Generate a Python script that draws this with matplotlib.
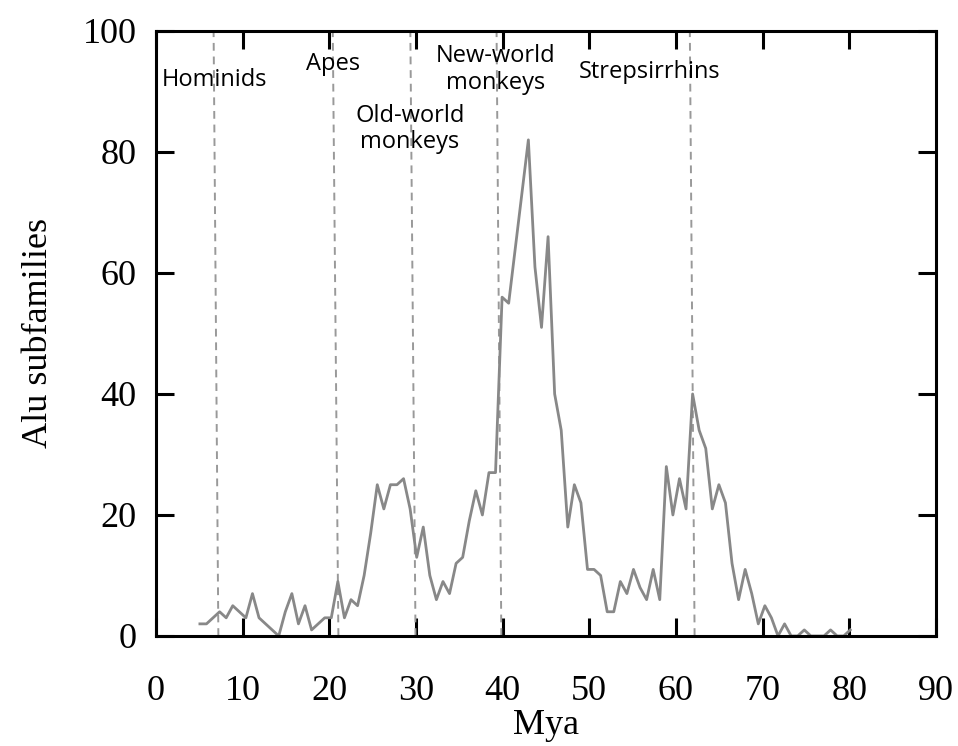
import matplotlib.pyplot as plt
import numpy as np

# Alu subfamily counts, sampled every ~0.76 Mya from ~5 Mya
start_mya = 5.07
step_mya = 0.758
counts = [2, 2, 3, 4, 3, 5, 4, 3, 7, 3,
          2, 1, 0, 4, 7, 2, 5, 1, 2, 3,
          3, 9, 3, 6, 5, 10, 17, 25, 21, 25,
          25, 26, 21, 13, 18, 10, 6, 9, 7, 12,
          13, 19, 24, 20, 27, 27, 56, 55, 64, 73,
          82, 61, 51, 66, 40, 34, 18, 25, 22, 11,
          11, 10, 4, 4, 9, 7, 11, 8, 6, 11,
          6, 28, 20, 26, 21, 40, 34, 31, 21, 25,
          22, 12, 6, 11, 7, 2, 5, 3, 0, 2,
          0, 0, 1, 0, 0, 0, 1, 0, 0, 1]
mya = start_mya + step_mya * np.arange(len(counts))

# divergence markers (slightly slanted in the original: bottom -> top)
div_bottom = [7.2, 21.05, 29.95, 39.85, 62.15]
div_top = [6.65, 20.4, 29.35, 39.3, 61.6]

labels = ["Hominids", "Apes", "Old-world\nmonkeys", "New-world\nmonkeys", "Strepsirrhins"]
label_x = [6.8, 20.4, 29.3, 39.2, 57.0]
label_y = [91.9, 94.5, 83.8, 93.6, 93.2]

fig = plt.figure(figsize=(9.58, 7.46), dpi=100)
ax = fig.add_axes([0.1628, 0.1475, 0.8142, 0.811])

for xb, xt in zip(div_bottom, div_top):
    ax.plot([xb, xt], [0, 100], color='#999999', lw=1.4, ls=(0, (4, 3)))

ax.plot(mya, counts, color='#888888', lw=2.0)

for txt, tx, ty in zip(labels, label_x, label_y):
    ax.text(tx, ty, txt, ha='center', va='center', fontsize=17,
            family='Open Sans', linespacing=1.15)

ax.set_xlim(0, 90)
ax.set_ylim(0, 100)
ax.set_xticks(range(0, 91, 10))
ax.set_yticks(range(0, 101, 20))

for s in ax.spines.values():
    s.set_linewidth(2.2)

ax.tick_params(direction='in', length=13, width=2.2, top=True, right=True,
               labelsize=26)
ax.tick_params(axis='x', pad=28)
ax.tick_params(axis='y', pad=14)
for lbl in ax.get_xticklabels() + ax.get_yticklabels():
    lbl.set_family('Liberation Serif')

ax.set_xlabel('Mya', fontsize=26, family='Liberation Serif', labelpad=1)
ax.set_ylabel('Alu subfamilies', fontsize=26, family='Liberation Serif', labelpad=20)

fig.savefig('out.png', dpi=100)
